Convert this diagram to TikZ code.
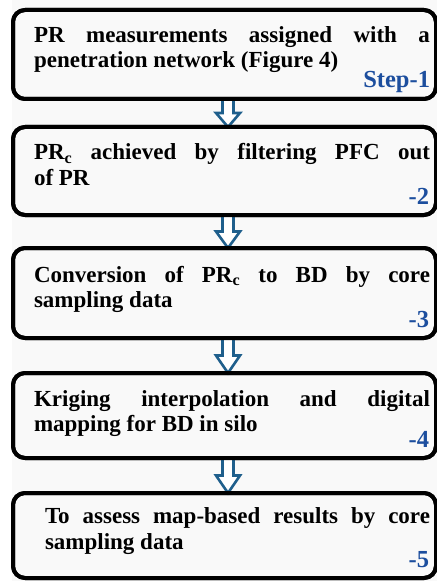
\documentclass[tikz,border=0pt]{standalone}
\usepackage{fontspec}
\setmainfont{Liberation Serif}
\usetikzlibrary{calc}
\definecolor{steptext}{HTML}{1C4E9E}
\definecolor{flowblue}{HTML}{1F5F8C}
\definecolor{paper}{HTML}{F9F9F9}
\newcommand{\linew}[1]{\makebox[396bp][s]{#1}}
\begin{document}
\begin{tikzpicture}[x=1bp,y=-1bp,
  stepbox/.style={draw=black,line width=4bp,rounded corners=12bp,rectangle,
    minimum width=423bp,outer sep=0pt,inner sep=0pt,anchor=north west},
  body/.style={anchor=base west,inner sep=0pt,outer sep=0pt,
    font=\fontsize{23bp}{25bp}\selectfont\bfseries},
  tag/.style={anchor=base east,inner sep=0pt,outer sep=0pt,text=steptext,
    font=\fontsize{24.5bp}{26bp}\selectfont\bfseries},
  flow/.style={draw=flowblue,fill=white,line width=2.6bp,line join=miter}]
\useasboundingbox (0,0) rectangle (437,581);
\fill[white] (0,0) rectangle (437,581);
\fill[paper] (12,0) rectangle (437,581);

% the five boxes of the procedure
\node[stepbox,minimum height=89bp] (b1) at (13,10) {};
\node[stepbox,minimum height=88bp] (b2) at (13,127) {};
\node[stepbox,minimum height=90bp] (b3) at (13,248) {};
\node[stepbox,minimum height=85bp] (b4) at (13,373) {};
\node[stepbox,minimum height=85bp] (b5) at (13,493) {};

% hollow arrows between consecutive boxes
\foreach \a/\b in {b1/b2,b2/b3,b3/b4,b4/b5}{
  \draw[flow] let \p1=($(\a.south)+(3.5,0)$), \p2=($(\b.north)+(3.5,0)$),
    \n1={(\y1-\y2)*0.5} in
    (\x1-5.5bp,\y1) -- (\x1-5.5bp,\y2+\n1) -- (\x1-12bp,\y2+\n1) -- (\x2,\y2)
    -- (\x1+12bp,\y2+\n1) -- (\x1+5.5bp,\y2+\n1) -- (\x1+5.5bp,\y1);
}
% redraw the borders over the arrow ends
\foreach \n/\h in {b1/89,b2/88,b3/90,b4/85,b5/85}{
  \node[stepbox,minimum height=\h bp] at (\n.north west) {};
}

% box texts
\node[body] (t1a) at (34,43) {\linew{PR measurements assigned with a}};
\node[body] (t1b) at (34,68) {penetration network (Figure 4)};
\node[tag] (s1) at (430,88) {Step-1};

\node[body] (t2a) at (34,160) {\linew{PR\textsubscript{c} achieved by filtering PFC out}};
\node[body] (t2b) at (34,185) {of PR};
\node[tag] (s2) at (429,204) {-2};

\node[body] (t3a) at (34,282) {\linew{Conversion of PR\textsubscript{c} to BD by core}};
\node[body] (t3b) at (34,307) {sampling data};
\node[tag] (s3) at (429,327) {-3};

\node[body] (t4a) at (34,406) {\linew{Kriging interpolation and digital}};
\node[body] (t4b) at (34,431) {mapping for BD in silo};
\node[tag] (s4) at (429,447) {-4};

\node[body] (t5a) at (45,523) {\makebox[385bp][s]{To assess map-based results by core}};
\node[body] (t5b) at (45,549) {sampling data};
\node[tag] (s5) at (429,567) {-5};
\end{tikzpicture}
\end{document}
